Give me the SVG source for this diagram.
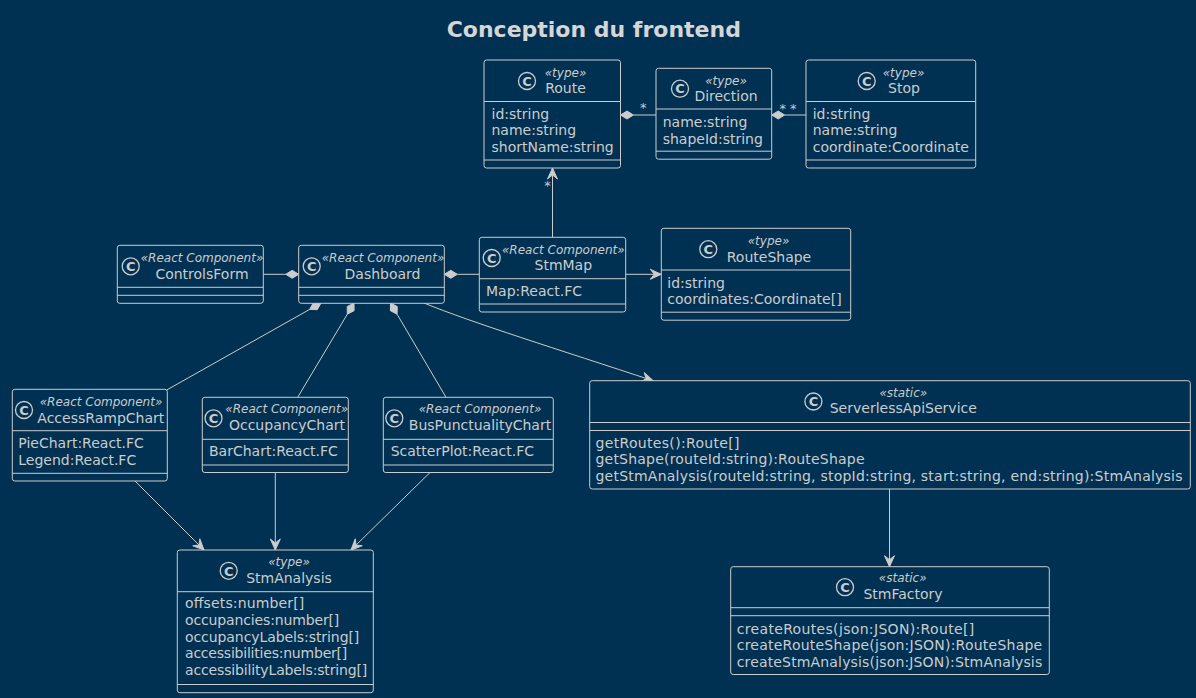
<svg xmlns="http://www.w3.org/2000/svg" width="1196" height="698" viewBox="0 0 1196 698">
<defs>
<style>
.bg{fill:#003153}
.box{fill:#003153;stroke:#cccccc;stroke-width:1}
.sep{stroke:#cccccc;stroke-width:1}
.t{font-family:"DejaVu Sans","Liberation Sans",sans-serif;font-size:14px;fill:#cccccc}
.st{font-family:"DejaVu Sans","Liberation Sans",sans-serif;font-size:12px;font-style:italic;fill:#cccccc;text-anchor:middle}
.nm{text-anchor:middle}
.ic{fill:none;stroke:#cccccc;stroke-width:1.3}
.icl{font-family:"DejaVu Sans","Liberation Sans",sans-serif;font-size:13px;font-weight:bold;fill:#cccccc;text-anchor:middle}
.ln{fill:none;stroke:#cccccc;stroke-width:1}
.dia{fill:#cccccc;stroke:#cccccc;stroke-width:1}
.lbl{font-family:"DejaVu Sans","Liberation Sans",sans-serif;font-size:13px;fill:#cccccc;text-anchor:middle}
.title{font-family:"DejaVu Sans","Liberation Sans",sans-serif;font-size:22px;font-weight:bold;fill:#d6d6d6;text-anchor:middle}
</style>
<marker id="arr" viewBox="-12 -6 13 12" refX="0" refY="0" markerWidth="13" markerHeight="12" markerUnits="userSpaceOnUse" orient="auto">
<path d="M0,0 L-11,-5 L-7,0 L-11,5 Z" fill="#cccccc" stroke="#cccccc" stroke-width="1"/>
</marker>
</defs>
<rect class="bg" x="0" y="0" width="1196" height="698"/>
<text class="title" x="593.8" y="36.5">Conception du frontend</text>

<g id="connectors">
<line class="ln" x1="633.5" y1="115" x2="656" y2="115"/>
<polygon class="dia" points="620.5,115 627,111 633.5,115 627,119"/>
<text class="lbl" x="643.3" y="112">*</text>
<line class="ln" x1="784.7" y1="115" x2="806" y2="115"/>
<polygon class="dia" points="771.7,115 778.2,111 784.7,115 778.2,119"/>
<text class="lbl" x="782.7" y="112.5">*</text>
<text class="lbl" x="793.3" y="112.5">*</text>
<line class="ln" x1="552.5" y1="237.3" x2="552.5" y2="168" marker-end="url(#arr)"/>
<text class="lbl" x="547.5" y="190">*</text>
<line class="ln" x1="263.3" y1="274.3" x2="285.7" y2="274.3"/>
<polygon class="dia" points="298.7,274.3 292.2,270.3 285.7,274.3 292.2,278.3"/>
<line class="ln" x1="457.3" y1="274.3" x2="479.3" y2="274.3"/>
<polygon class="dia" points="444.3,274.3 450.8,270.3 457.3,274.3 450.8,278.3"/>
<line class="ln" x1="625.7" y1="274.3" x2="661.3" y2="274.3" marker-end="url(#arr)"/>
<line class="ln" x1="309.67" y1="309.39" x2="166.7" y2="390"/>
<polygon class="dia" points="321,303 317.3,309.68 309.67,309.39 313.37,302.7"/>
<line class="ln" x1="347.34" y1="314.16" x2="297.7" y2="397.3"/>
<polygon class="dia" points="354,303 354.1,310.63 347.34,314.16 347.23,306.53"/>
<line class="ln" x1="397.09" y1="314.21" x2="446" y2="397.3"/>
<polygon class="dia" points="390.5,303 397.25,306.57 397.09,314.21 390.35,310.63"/>
<path class="ln" d="M424,303 C470,322 560,350 653,380.7" marker-end="url(#arr)"/>
<line class="ln" x1="135" y1="481" x2="204" y2="550" marker-end="url(#arr)"/>
<line class="ln" x1="275.3" y1="472.5" x2="275.3" y2="550" marker-end="url(#arr)"/>
<line class="ln" x1="430" y1="472.5" x2="351" y2="550" marker-end="url(#arr)"/>
<line class="ln" x1="889.5" y1="489" x2="889.5" y2="566.7" marker-end="url(#arr)"/>
</g>

<g id="Route">
<rect class="box" x="484" y="60" width="136.5" height="108" rx="2.5"/>
<line class="sep" x1="484" y1="101.5" x2="620.5" y2="101.5"/>
<line class="sep" x1="484" y1="160" x2="620.5" y2="160"/>
<circle class="ic" cx="527" cy="81" r="8.5"/><text class="icl" x="527" y="85.7">C</text>
<text class="st" x="565.5" y="76.5">«type»</text>
<text class="t nm" x="565.5" y="93">Route</text>
<text class="t" x="491.5" y="118.5">id:string</text>
<text class="t" x="491.5" y="135">name:string</text>
<text class="t" x="491.5" y="151.5">shortName:string</text>
</g>

<g id="Direction">
<rect class="box" x="656" y="68.3" width="115.7" height="90.9" rx="2.5"/>
<line class="sep" x1="656" y1="109" x2="771.7" y2="109"/>
<line class="sep" x1="656" y1="151.2" x2="771.7" y2="151.2"/>
<circle class="ic" cx="680" cy="88.7" r="8.5"/><text class="icl" x="680" y="93.4">C</text>
<text class="st" x="726" y="84.8">«type»</text>
<text class="t nm" x="726" y="101.3">Direction</text>
<text class="t" x="662.7" y="127">name:string</text>
<text class="t" x="662.7" y="143.6">shapeId:string</text>
</g>

<g id="Stop">
<rect class="box" x="806" y="60" width="169.7" height="108" rx="2.5"/>
<line class="sep" x1="806" y1="101.5" x2="975.7" y2="101.5"/>
<line class="sep" x1="806" y1="160" x2="975.7" y2="160"/>
<circle class="ic" cx="866.7" cy="81" r="8.5"/><text class="icl" x="866.7" y="85.7">C</text>
<text class="st" x="903.5" y="76.5">«type»</text>
<text class="t nm" x="904" y="93">Stop</text>
<text class="t" x="812.7" y="118.5">id:string</text>
<text class="t" x="812.7" y="135">name:string</text>
<text class="t" x="812.7" y="151.5">coordinate:Coordinate</text>
</g>

<g id="ControlsForm">
<rect class="box" x="117.3" y="245.3" width="146" height="58" rx="2.5"/>
<line class="sep" x1="117.3" y1="287.3" x2="263.3" y2="287.3"/>
<line class="sep" x1="117.3" y1="295.3" x2="263.3" y2="295.3"/>
<circle class="ic" cx="130.7" cy="266.3" r="8.5"/><text class="icl" x="130.7" y="271">C</text>
<text class="st" x="202" y="262">«React Component»</text>
<text class="t nm" x="202" y="278.5">ControlsForm</text>
</g>

<g id="Dashboard">
<rect class="box" x="298.7" y="245.3" width="145.6" height="58" rx="2.5"/>
<line class="sep" x1="298.7" y1="287.3" x2="444.3" y2="287.3"/>
<line class="sep" x1="298.7" y1="295.3" x2="444.3" y2="295.3"/>
<circle class="ic" cx="311.7" cy="266.3" r="8.5"/><text class="icl" x="311.7" y="271">C</text>
<text class="st" x="383" y="262">«React Component»</text>
<text class="t nm" x="382.5" y="278.5">Dashboard</text>
</g>

<g id="StmMap">
<rect class="box" x="479.3" y="237.3" width="146.4" height="74.7" rx="2.5"/>
<line class="sep" x1="479.3" y1="278.7" x2="625.7" y2="278.7"/>
<line class="sep" x1="479.3" y1="304" x2="625.7" y2="304"/>
<circle class="ic" cx="491.7" cy="258" r="8.5"/><text class="icl" x="491.7" y="262.7">C</text>
<text class="st" x="563.3" y="253.8">«React Component»</text>
<text class="t nm" x="563.3" y="270.3">StmMap</text>
<text class="t" x="486" y="296.3">Map:React.FC</text>
</g>

<g id="RouteShape">
<rect class="box" x="661.3" y="228.3" width="189.4" height="91.9" rx="2.5"/>
<line class="sep" x1="661.3" y1="270" x2="850.7" y2="270"/>
<line class="sep" x1="661.3" y1="312.2" x2="850.7" y2="312.2"/>
<circle class="ic" cx="708.3" cy="249.2" r="8.5"/><text class="icl" x="708.3" y="253.9">C</text>
<text class="st" x="768.5" y="245">«type»</text>
<text class="t nm" x="769" y="261.5">RouteShape</text>
<text class="t" x="667.3" y="287.5">id:string</text>
<text class="t" x="667.3" y="304">coordinates:Coordinate[]</text>
</g>

<g id="AccessRampChart">
<rect class="box" x="12.3" y="389.3" width="155" height="91.7" rx="2.5"/>
<line class="sep" x1="12.3" y1="430.7" x2="167.3" y2="430.7"/>
<line class="sep" x1="12.3" y1="473.3" x2="167.3" y2="473.3"/>
<circle class="ic" cx="24" cy="410" r="8.5"/><text class="icl" x="24" y="414.7">C</text>
<text class="st" x="101" y="405.7">«React Component»</text>
<text class="t nm" x="100.8" y="422.7">AccessRampChart</text>
<text class="t" x="18.3" y="448.3">PieChart:React.FC</text>
<text class="t" x="18.3" y="465">Legend:React.FC</text>
</g>

<g id="OccupancyChart">
<rect class="box" x="202.3" y="397.3" width="146" height="75.2" rx="2.5"/>
<line class="sep" x1="202.3" y1="439.3" x2="348.3" y2="439.3"/>
<line class="sep" x1="202.3" y1="465" x2="348.3" y2="465"/>
<circle class="ic" cx="213.5" cy="418.3" r="8.5"/><text class="icl" x="213.5" y="423">C</text>
<text class="st" x="286.7" y="413.3">«React Component»</text>
<text class="t nm" x="287" y="430">OccupancyChart</text>
<text class="t" x="209" y="456">BarChart:React.FC</text>
</g>

<g id="BusPunctualityChart">
<rect class="box" x="383.3" y="397.3" width="170" height="75.2" rx="2.5"/>
<line class="sep" x1="383.3" y1="439.3" x2="553.3" y2="439.3"/>
<line class="sep" x1="383.3" y1="465" x2="553.3" y2="465"/>
<circle class="ic" cx="394.3" cy="418.3" r="8.5"/><text class="icl" x="394.3" y="423">C</text>
<text class="st" x="480" y="413.3">«React Component»</text>
<text class="t nm" x="480" y="430">BusPunctualityChart</text>
<text class="t" x="390.7" y="456">ScatterPlot:React.FC</text>
</g>

<g id="ServerlessApiService">
<rect class="box" x="589.7" y="380.7" width="600.6" height="108.3" rx="2.5"/>
<line class="sep" x1="589.7" y1="422.5" x2="1190.3" y2="422.5"/>
<line class="sep" x1="589.7" y1="430.5" x2="1190.3" y2="430.5"/>
<circle class="ic" cx="813.4" cy="401.5" r="8.5"/><text class="icl" x="813.4" y="406.2">C</text>
<text class="st" x="903.3" y="396.7">«static»</text>
<text class="t nm" x="903.3" y="413.3">ServerlessApiService</text>
<text class="t" x="595.5" y="447.7" textLength="144" lengthAdjust="spacing">getRoutes():Route[]</text>
<text class="t" x="595.5" y="464.3" textLength="269" lengthAdjust="spacing">getShape(routeId:string):RouteShape</text>
<text class="t" x="595.5" y="481" textLength="587" lengthAdjust="spacing">getStmAnalysis(routeId:string, stopId:string, start:string, end:string):StmAnalysis</text>
</g>

<g id="StmFactory">
<rect class="box" x="730.7" y="566.7" width="318.6" height="107.8" rx="2.5"/>
<line class="sep" x1="730.7" y1="607.7" x2="1049.3" y2="607.7"/>
<line class="sep" x1="730.7" y1="615.7" x2="1049.3" y2="615.7"/>
<circle class="ic" cx="845" cy="587.2" r="8.5"/><text class="icl" x="845" y="591.9">C</text>
<text class="st" x="902.7" y="581.7">«static»</text>
<text class="t nm" x="903" y="599.3">StmFactory</text>
<text class="t" x="736.7" y="633.5" textLength="237.5" lengthAdjust="spacing">createRoutes(json:JSON):Route[]</text>
<text class="t" x="736.7" y="650.2" textLength="305.5" lengthAdjust="spacing">createRouteShape(json:JSON):RouteShape</text>
<text class="t" x="736.7" y="666.8" textLength="305.5" lengthAdjust="spacing">createStmAnalysis(json:JSON):StmAnalysis</text>
</g>

<g id="StmAnalysis">
<rect class="box" x="177.3" y="550" width="196" height="142.7" rx="2.5"/>
<line class="sep" x1="177.3" y1="591.7" x2="373.3" y2="591.7"/>
<line class="sep" x1="177.3" y1="684.5" x2="373.3" y2="684.5"/>
<circle class="ic" cx="228.7" cy="570.8" r="8.5"/><text class="icl" x="228.7" y="575.5">C</text>
<text class="st" x="289" y="566">«type»</text>
<text class="t nm" x="289" y="582.5">StmAnalysis</text>
<text class="t" x="185" y="608.3" textLength="119.3" lengthAdjust="spacing">offsets:number[]</text>
<text class="t" x="185" y="625" textLength="154.3" lengthAdjust="spacing">occupancies:number[]</text>
<text class="t" x="185" y="641.7" textLength="174.3" lengthAdjust="spacing">occupancyLabels:string[]</text>
<text class="t" x="185" y="658.3" textLength="162.3" lengthAdjust="spacing">accessibilities:number[]</text>
<text class="t" x="185" y="675" textLength="182.3" lengthAdjust="spacing">accessibilityLabels:string[]</text>
</g>
</svg>
